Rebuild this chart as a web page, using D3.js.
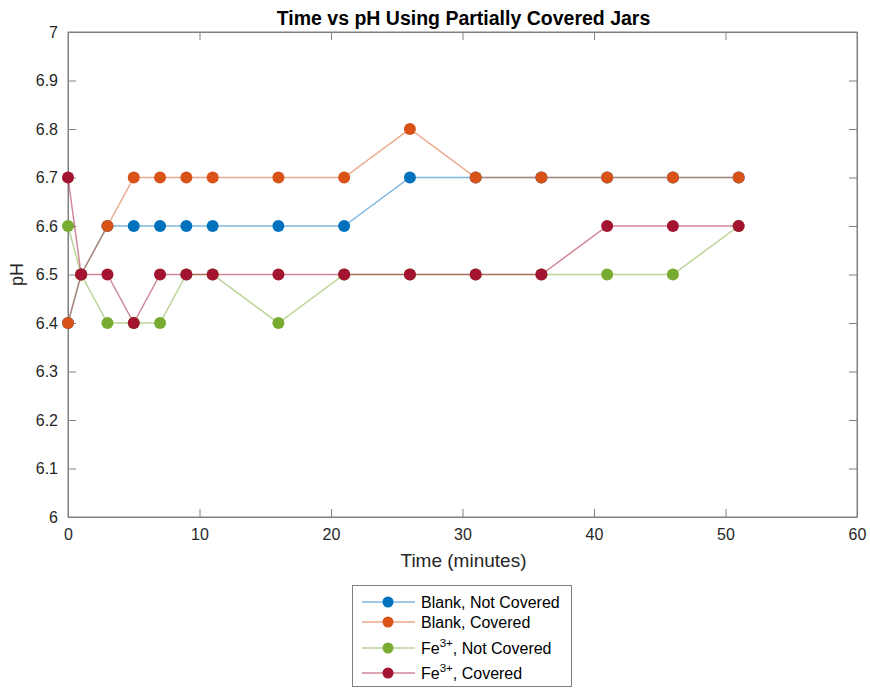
<!DOCTYPE html>
<html>
<head>
<meta charset="utf-8">
<script src="https://cdn.jsdelivr.net/npm/d3@7"></script>
<style>
  body { margin: 0; background: #fff; }
  svg { font-family: "Liberation Sans", Arial, sans-serif; }
</style>
</head>
<body>
<svg width="870" height="688"></svg>
<script>
// sample times (minutes)
const times = [0, 1, 3, 5, 7, 9, 11, 16, 21, 26, 31, 36, 41, 46, 51];
// pH readings per series
const blankNotCovered = [6.4, 6.5, 6.6, 6.6, 6.6, 6.6, 6.6, 6.6, 6.6, 6.7, 6.7, 6.7, 6.7, 6.7, 6.7];
const blankCovered    = [6.4, 6.5, 6.6, 6.7, 6.7, 6.7, 6.7, 6.7, 6.7, 6.8, 6.7, 6.7, 6.7, 6.7, 6.7];
const feNotCovered    = [6.6, 6.5, 6.4, 6.4, 6.4, 6.5, 6.5, 6.4, 6.5, 6.5, 6.5, 6.5, 6.5, 6.5, 6.6];
const feCovered       = [6.7, 6.5, 6.5, 6.4, 6.5, 6.5, 6.5, 6.5, 6.5, 6.5, 6.5, 6.5, 6.6, 6.6, 6.6];
const xTicks = [0, 10, 20, 30, 40, 50, 60];
const yTicks = [6, 6.1, 6.2, 6.3, 6.4, 6.5, 6.6, 6.7, 6.8, 6.9, 7];

const series = [
  { name: "Blank, Not Covered", sup: null, values: blankNotCovered, color: "#0072BD" },
  { name: "Blank, Covered", sup: null, values: blankCovered, color: "#D95319" },
  { name: ", Not Covered", sup: "3+", values: feNotCovered, color: "#77AC30" },
  { name: ", Covered", sup: "3+", values: feCovered, color: "#A2142F" }
];

const svg = d3.select("svg");
const plot = { left: 68, right: 857, top: 32, bottom: 517 };

const x = d3.scaleLinear().domain([0, 60]).range([plot.left, plot.right]);
const y = d3.scaleLinear().domain([6, 7]).range([plot.bottom, plot.top]);

const axisColor = "#262626";
const fmtY = d => (d % 1 === 0 ? String(d) : d.toFixed(1));

// box
svg.append("rect")
  .attr("x", plot.left).attr("y", plot.top)
  .attr("width", plot.right - plot.left).attr("height", plot.bottom - plot.top)
  .attr("fill", "none").attr("stroke", "#808080").attr("stroke-width", 1);

// axes, ticks pointing inward
const xAxis = svg.append("g")
  .attr("transform", `translate(0,${plot.bottom})`)
  .call(d3.axisBottom(x).tickValues(xTicks).tickSizeInner(-8).tickSizeOuter(0).tickPadding(12).tickFormat(d3.format("d")));
const xTop = svg.append("g")
  .attr("transform", `translate(0,${plot.top})`)
  .call(d3.axisTop(x).tickValues(xTicks).tickSizeInner(-8).tickSizeOuter(0).tickFormat(""));

const yAxis = svg.append("g")
  .attr("transform", `translate(${plot.left},0)`)
  .call(d3.axisLeft(y).tickValues(yTicks).tickSizeInner(-8).tickSizeOuter(0).tickPadding(10).tickFormat(fmtY));
const yRight = svg.append("g")
  .attr("transform", `translate(${plot.right},0)`)
  .call(d3.axisRight(y).tickValues(yTicks).tickSizeInner(-8).tickSizeOuter(0).tickFormat(""));

[xAxis, xTop, yAxis, yRight].forEach(g => {
  g.select(".domain").attr("stroke", "#808080");
  g.selectAll(".tick line").attr("stroke", "#808080");
  g.selectAll(".tick text").attr("fill", axisColor).attr("font-size", 16).attr("font-family", "Liberation Sans, Arial, sans-serif");
});

// labels
svg.append("text")
  .attr("x", (plot.left + plot.right) / 2 + 1).attr("y", 25)
  .attr("text-anchor", "middle").attr("font-size", 19.5).attr("font-weight", "bold")
  .attr("fill", "#000").text("Time vs pH Using Partially Covered Jars");

svg.append("text")
  .attr("x", (plot.left + plot.right) / 2 + 1).attr("y", 567)
  .attr("text-anchor", "middle").attr("font-size", 19)
  .attr("fill", axisColor).text("Time (minutes)");

svg.append("text")
  .attr("transform", `translate(23,${(plot.top + plot.bottom) / 2}) rotate(-90)`)
  .attr("text-anchor", "middle").attr("font-size", 18)
  .attr("fill", axisColor).text("pH");

// lines and markers
const line = d3.line().x((d, i) => x(times[i])).y(d => y(d));

series.forEach(s => {
  const g = svg.append("g");
  g.append("path")
    .attr("d", line(s.values))
    .attr("fill", "none")
    .attr("stroke", s.color)
    .attr("stroke-opacity", 0.5)
    .attr("stroke-width", 1.5);
  g.selectAll("circle").data(s.values).enter().append("circle")
    .attr("cx", (d, i) => x(times[i]))
    .attr("cy", d => y(d))
    .attr("r", 6)
    .attr("fill", s.color);
});

// legend
const legend = svg.append("g");
legend.append("rect")
  .attr("x", 352.5).attr("y", 585.5).attr("width", 219).attr("height", 101)
  .attr("fill", "#fff").attr("stroke", "#808080");
const rowY = [602, 622, 648, 673];
series.forEach((s, i) => {
  const ly = rowY[i];
  legend.append("line")
    .attr("x1", 362).attr("x2", 415).attr("y1", ly).attr("y2", ly)
    .attr("stroke", s.color).attr("stroke-opacity", 0.5).attr("stroke-width", 1.5);
  legend.append("circle")
    .attr("cx", 388).attr("cy", ly).attr("r", 5.5).attr("fill", s.color);
  const t = legend.append("text")
    .attr("x", 421).attr("y", ly + 6)
    .attr("font-size", 16).attr("fill", "#000");
  if (s.sup) {
    t.append("tspan").text("Fe");
    t.append("tspan").attr("dy", -7).attr("font-size", 11.5).text(s.sup);
    t.append("tspan").attr("dy", 7).text(s.name);
  } else {
    t.text(s.name);
  }
});
</script>
</body>
</html>
